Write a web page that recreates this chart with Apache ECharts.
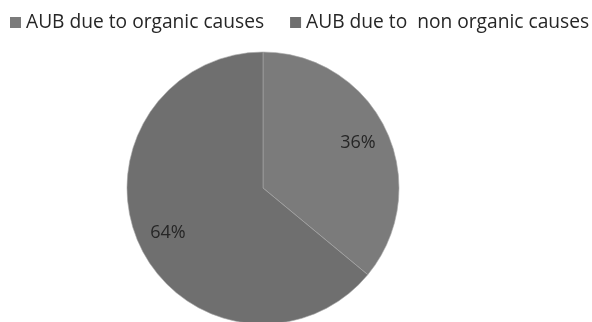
<!DOCTYPE html>
<html>
<head>
    <meta charset="UTF-8">
    <script src="https://cdn.jsdelivr.net/npm/echarts@6/dist/echarts.min.js"></script>
</head>
<body style="margin:0;background:#fff;">
<div id="main" style="width:592px;height:322px;"></div>
<script>
    var categories = ['AUB due to organic causes', 'AUB due to  non organic causes'];
    var values = [36, 64];
    var colors = ['#7b7b7b', '#6f6f6f'];

    var pieData = [];
    for (var i = 0; i < categories.length; i++) {
        pieData.push({name: categories[i], value: values[i], itemStyle: {color: colors[i]}});
    }

    var myChart = echarts.init(document.getElementById('main'));
    var option = {
        animation: false,
        legend: {
            data: categories,
            left: 10,
            top: 13,
            width: 582,
            padding: 0,
            icon: 'rect',
            itemWidth: 11,
            itemHeight: 11,
            itemGap: 26,
            itemStyle: {borderWidth: 0},
            textStyle: {
                fontFamily: 'Open Sans',
                fontSize: 19.2,
                color: '#262626'
            }
        },
        series: [
            {
                type: 'pie',
                center: [263, 188],
                radius: [0, 136],
                startAngle: 90,
                clockwise: true,
                data: pieData,
                itemStyle: {
                    borderColor: '#a8a8a8',
                    borderWidth: 0.6
                },
                label: {show: false},
                labelLine: {show: false},
                emphasis: {disabled: true}
            },
            {
                // transparent ring only used to place labels at 3/4 of the radius
                type: 'pie',
                center: [263, 188],
                radius: [68, 136],
                startAngle: 90,
                clockwise: true,
                silent: true,
                data: pieData.map(function (d) {
                    return {name: d.name, value: d.value, itemStyle: {color: 'rgba(0,0,0,0)'}};
                }),
                label: {
                    show: true,
                    position: 'inside',
                    formatter: '{d}%',
                    fontFamily: 'Open Sans',
                    fontSize: 18,
                    color: '#262626'
                },
                labelLine: {show: false},
                emphasis: {disabled: true}
            }
        ]
    };
    myChart.setOption(option);
</script>
</body>
</html>
